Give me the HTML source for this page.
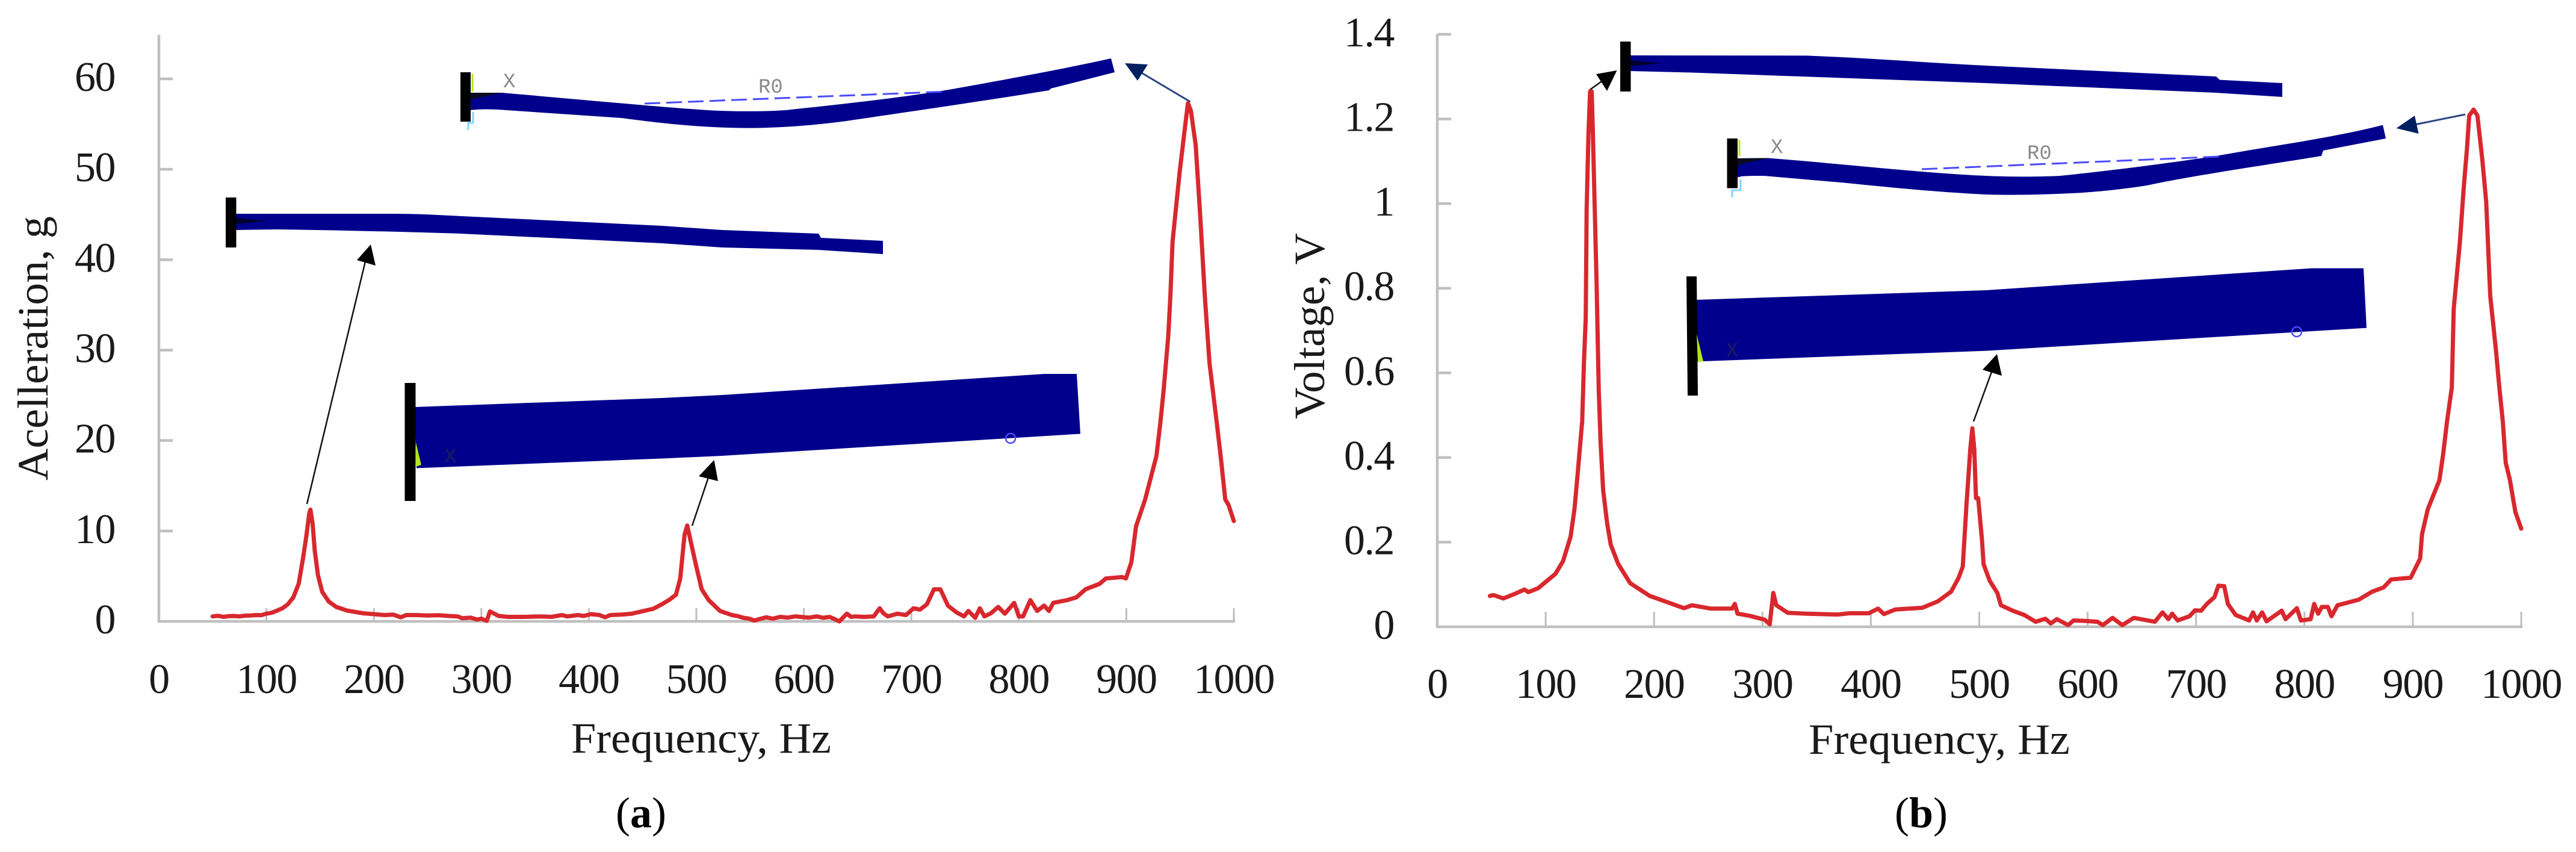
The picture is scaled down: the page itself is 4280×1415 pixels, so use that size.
<!DOCTYPE html>
<html lang="en">
<head>
<meta charset="utf-8">
<title>Frequency response: acceleration and voltage</title>
<style>
  html, body { margin: 0; padding: 0; background: #ffffff; width: 4280px; height: 1415px; overflow: hidden; }
  svg { display: block; }
  text { font-family: "Liberation Serif", serif; fill: #1a1a1a; }
  .tick-label { font-size: 70px; letter-spacing: -1.5px; }
  .axis-title { font-size: 72px; }
  .panel-label { font-size: 72px; fill: #000; }
  .fem-label { font-family: "Liberation Mono", monospace; font-size: 34px; fill: #8a8a8a; }
  .beam { fill: #00008c; }
  .clamp { fill: #000000; }
  .undeformed { stroke: #4a4aff; stroke-width: 3; stroke-dasharray: 26 10; fill: none; }
</style>
</head>
<body>
<svg id="fig" xmlns="http://www.w3.org/2000/svg" width="4280" height="1415" viewBox="0 0 4280 1415">
  <rect width="4280" height="1415" fill="#ffffff"/>

  <!-- Panel (a) mode shapes -->
  <g>
    <path class="beam" d="M392,355 L612,355 C 660,355 690,355 727,357 L1100,375 L1200,382 L1360,388 L1364,395 L1467,400 L1467,422 L1360,415 L1200,411 L1100,404 L765,388 C 640,384 540,382 459,381 L392,382 Z"/>
    <polygon points="392,362 443,367 392,372" fill="#000030"/>
    <rect class="clamp" x="375" y="328" width="17.5" height="83"/>
    <path class="beam" d="M782,154 L834,154 C 960,165 1100,178 1176,183 C 1230,186 1290,185 1314,182 C 1400,173 1500,162 1582,148 C 1660,134 1760,116 1846,97 L1852,120 L1746,147 L1743,150 C 1620,170 1480,190 1406,201 C 1360,207 1320,211 1260,212.5 C 1180,214 1100,205 1033,196 L842,183 C 820,181 796,181 782,183 Z"/>
    <polygon points="782,154 834,154 782,165" fill="#0a0a20"/>
    <line class="undeformed" x1="1071" y1="172" x2="1574" y2="152"/>
    <line x1="785" y1="123" x2="785" y2="152" stroke="#b5e61d" stroke-width="3"/>
    <rect class="clamp" x="765" y="120" width="17" height="82"/>
    <text class="fem-label" x="836" y="145">X</text>
    <text class="fem-label" x="1260" y="154">R0</text>
    <path d="M786 186 V204 H778 V216" stroke="#7fd4ff" stroke-width="3" fill="none"/>
    <polygon class="beam" points="689,676 1100,661 1200,656 1735,621 1789,621 1795,720.5 1200,757 1100,761.5 692,777.5"/>
    <rect class="clamp" x="672.5" y="636" width="18" height="196"/>
    <polygon points="691,735 700,772 691,775" fill="#b5e61d"/>
    <text class="fem-label" x="738" y="768" style="fill:#1c1c60">X</text>
    <circle cx="1679" cy="728" r="8" fill="none" stroke="#4a4aff" stroke-width="2.5"/>
  </g>

  <!-- Panel (a) arrows -->
  <g>
    <line x1="510" y1="837" x2="608" y2="430" stroke="#111" stroke-width="2.5"/>
    <polygon points="616,406 593,432 624,441" fill="#000"/>
    <line x1="1150" y1="873" x2="1178" y2="790" stroke="#111" stroke-width="2.5"/>
    <polygon points="1186.5,764 1161,791 1193,799" fill="#000"/>
    <line x1="1977.6" y1="169" x2="1895" y2="120" stroke="#2a4580" stroke-width="3"/>
    <polygon points="1869,105 1907,107 1890,134" fill="#002060"/>
  </g>

  <!-- Panel (b) mode shapes -->
  <g>
    <path class="beam" d="M2709,92 L3001.5,92.4 C 3100,96 3200,104 3300,109 L3682,127 L3688,132.6 L3792,138 L3792,161 L3682,154 L3300,138 L2810,120.5 L2709,118 Z"/>
    <polygon points="2709,100 2759,105 2709,110" fill="#000030"/>
    <rect class="clamp" x="2692" y="69" width="17.5" height="83"/>
    <path class="beam" d="M2887,263 L2938,262.5 C 3060,272 3200,288 3299,292 C 3360,294.5 3400,293 3423.5,292 C 3490,285 3600,272 3688,258 C 3790,240 3880,228 3959,207.6 L3964,230 L3860,250 L3857,259 C 3760,275 3640,292 3567,308 C 3520,315 3490,318 3452,320.5 C 3380,324 3340,324 3299,323 C 3200,318 3100,307 3065,303.6 L2931,292 C 2915,292 2900,292 2893,293 L2887,294.6 Z"/>
    <polygon points="2887,263 2938,262.5 2887,274" fill="#0a0a20"/>
    <line class="undeformed" x1="3193" y1="281" x2="3688" y2="260"/>
    <line x1="2890" y1="232" x2="2890" y2="259" stroke="#b5e61d" stroke-width="3"/>
    <rect class="clamp" x="2869.5" y="230" width="17.5" height="82.5"/>
    <text class="fem-label" x="2942" y="254">X</text>
    <text class="fem-label" x="3368" y="264">R0</text>
    <path d="M2892 298 V316 H2878 V328" stroke="#7fd4ff" stroke-width="3" fill="none"/>
    <polygon class="beam" points="2817,498 3300,482 3841,445.5 3927,445.5 3932,544.6 3300,582.6 2829,600 2817,600"/>
    <polygon class="clamp" points="2802,459 2819,459 2821,657 2804,657"/>
    <polygon points="2819,555 2830,600 2821,602" fill="#b5e61d"/>
    <text class="fem-label" x="2868" y="592" style="fill:#1c1c60">X</text>
    <circle cx="3816" cy="551" r="8" fill="none" stroke="#4a4aff" stroke-width="2.5"/>
  </g>

  <!-- Panel (b) arrows -->
  <g>
    <line x1="2641" y1="149.5" x2="2664" y2="133" stroke="#111" stroke-width="2.5"/>
    <polygon points="2686.5,117 2652,123 2670,151" fill="#000"/>
    <line x1="3279" y1="700" x2="3310" y2="615" stroke="#111" stroke-width="2.5"/>
    <polygon points="3318,588 3294,614 3326,624" fill="#000"/>
    <line x1="4096" y1="190" x2="4012" y2="207" stroke="#2a4580" stroke-width="3"/>
    <polygon points="3981.5,213 4012,192 4018.5,222" fill="#002060"/>
  </g>

  <!-- Titles and panel labels -->
  <text class="axis-title" x="949" y="1250" textLength="432" lengthAdjust="spacingAndGlyphs">Frequency, Hz</text>
  <text class="axis-title" transform="translate(79,798) rotate(-90)" textLength="439" lengthAdjust="spacingAndGlyphs">Acelleration, g</text>
  <text class="panel-label" x="1065" y="1374" text-anchor="middle">(<tspan font-weight="bold">a</tspan>)</text>
  <text class="axis-title" x="3005" y="1252" textLength="434" lengthAdjust="spacingAndGlyphs">Frequency, Hz</text>
  <text class="axis-title" transform="translate(2200,696) rotate(-90)" textLength="309" lengthAdjust="spacingAndGlyphs">Voltage, V</text>
  <text class="panel-label" x="3192" y="1374" text-anchor="middle">(<tspan font-weight="bold">b</tspan>)</text>
</svg>

<script>
// Shared x-axis ticks (Hz)
const xTickLabels = ["0","100","200","300","400","500","600","700","800","900","1000"];
// Panel (a) y-axis ticks (g)
const yTickLabelsA = ["0","10","20","30","40","50","60"];
// Panel (b) y-axis ticks (V)
const yTickLabelsB = ["0","0.2","0.4","0.6","0.8","1","1.2","1.4"];

// Panel (a) series: frequency in Hz
const freqA = [50,55,60,65,70,75,80,85,90,95,100,105,110,115,120,125,130,134,137,140,141,143,145,148,152,158,165,175,190,200,210,218,225,230,240,250,260,270,278,282,290,296,300,305,308,312,316,325,340,355,365,375,380,390,395,402,410,415,420,430,440,451,460,468,475,481,485,489,491.5,495,499.5,505,511.5,522,533,538,543.6,549,554,560,565,571,578,585,592,597,605,612,618,624,633,640,644,648,656,665,670.5,674,678,687,695,702,708,714.5,721,727,734,742,749,753,759.4,763.7,768,774,780.8,787,795.7,800,804,810.7,817,823.5,828,832,845,853.4,862,875,881,896,899.6,904.7,909,917.5,928,931.6,934.7,939,941,943,949.6,953.8,957.3,960,964.5,968.7,973,977.3,984,988,992,995,1000];
// Panel (a) series: acceleration in g
const accelG = [0.55,0.62,0.5,0.58,0.6,0.55,0.63,0.65,0.7,0.68,0.85,0.95,1.2,1.45,1.9,2.65,4.15,6.9,9.3,12,12.35,10.8,7.8,5.1,3.25,2.2,1.6,1.2,0.9,0.8,0.7,0.75,0.45,0.7,0.7,0.65,0.68,0.6,0.55,0.35,0.42,0.2,0.3,0.05,1.1,0.85,0.6,0.5,0.5,0.55,0.5,0.7,0.55,0.7,0.6,0.8,0.7,0.45,0.7,0.75,0.85,1.15,1.4,1.9,2.4,2.95,4.75,9.6,10.6,8.7,6.3,3.55,2.35,1.15,0.7,0.6,0.4,0.3,0.1,0.3,0.45,0.3,0.5,0.42,0.55,0.5,0.42,0.55,0.4,0.5,0,0.85,0.5,0.55,0.5,0.55,1.45,0.9,0.55,0.85,0.7,1.45,1.3,1.9,3.55,3.55,1.75,1,0.55,1.15,0.4,1.45,0.55,0.9,1.6,0.85,2.05,0.55,0.55,2.35,1.15,1.75,1.15,2.05,2.35,2.65,3.55,4.15,4.75,4.9,4.75,6.55,10.5,13.5,18.3,21.9,25.6,31.6,36,42,49.7,53.9,57.3,56.5,52.7,44.9,36,28.6,22.1,18,13.5,12.9,11.1];

// Panel (b) series: frequency in Hz
const freqB = [48.6,52,61,71.6,80.5,84,93,100,109,116,123,126.6,130,133.7,135.3,137,137.8,139.5,141,142.5,143.5,145.3,147,149,150.7,153,156.7,160,167,178,196,213.5,227.7,234.8,252.5,272,274.5,277,288,302,306.7,310,312.8,323.4,341,369.5,380,398,406.7,412,422.7,447.5,461.7,474,481,484.8,488.3,491.8,493.6,495.4,497,499,502.5,504,509.6,516.7,520,530.9,541.5,552,561,566,571.6,582,587,598,609,614,623,632,642.6,662,669,674.5,678,683,694,699,704.6,710,717,720.6,726,729.4,736.5,749,752.5,756,761,765,779,782.6,793,796.8,805.7,809,812.6,816,821.6,825,830.5,850,862.4,873,880,898,906.7,908.5,913.8,924.5,928,931.6,936,937.7,943.4,946.9,950,952,956,959.6,964,967.7,971.4,976.6,980,983,985.7,989.4,994.6,1000];
// Panel (b) series: voltage in V
const voltageV = [0.073,0.075,0.067,0.078,0.088,0.082,0.091,0.106,0.125,0.155,0.213,0.278,0.375,0.486,0.623,0.731,0.986,1.164,1.265,1.265,1.176,0.985,0.814,0.56,0.434,0.323,0.245,0.194,0.148,0.103,0.073,0.057,0.044,0.051,0.043,0.043,0.054,0.031,0.026,0.017,0.006,0.08,0.051,0.033,0.031,0.029,0.032,0.032,0.043,0.03,0.041,0.045,0.06,0.083,0.116,0.142,0.291,0.421,0.469,0.421,0.304,0.304,0.206,0.148,0.109,0.08,0.051,0.038,0.028,0.012,0.019,0.008,0.018,0.004,0.015,0.014,0.012,0.004,0.021,0.004,0.021,0.012,0.034,0.018,0.031,0.015,0.025,0.039,0.038,0.054,0.07,0.097,0.096,0.054,0.028,0.015,0.034,0.015,0.034,0.013,0.038,0.018,0.044,0.015,0.018,0.054,0.031,0.047,0.047,0.025,0.051,0.064,0.083,0.093,0.112,0.116,0.161,0.219,0.278,0.346,0.408,0.486,0.566,0.751,0.909,1.036,1.131,1.208,1.222,1.208,1.106,1.004,0.782,0.655,0.56,0.485,0.388,0.349,0.271,0.232];

const SVG_NS = 'http://www.w3.org/2000/svg';
const svg = document.getElementById('fig');

function xAxisA(v) { return 264 + (v / 1000) * 1786; }
function yAxisA(v) { return 1032 - (v / 60) * 901; }
function xAxisB(v) { return 2388 + (v / 1000) * 1801; }
function yAxisB(v) { return 1041 - (v / 1.4) * 984; }

function shape(tag, attrs) {
  const el = document.createElementNS(SVG_NS, tag);
  for (const k in attrs) el.setAttribute(k, attrs[k]);
  return el;
}

function drawAxes(xf, yf, yLabels, yLabelRight, xLabelBaseline, topY, xTickHeight, suffix) {
  const group = shape('g', {});
  
  
  const axisStyle = { stroke: '#bfbfbf', 'stroke-width': 4.5, fill: 'none' };

  const yLine = shape('line', Object.assign({ x1: xf(0), x2: xf(0), y1: topY, y2: yf(0) + 2 }, axisStyle));
  
  
  group.appendChild(yLine);

  const xLine = shape('line', Object.assign({ x1: xf(0), x2: xf(1000) + 2, y1: yf(0), y2: yf(0) }, axisStyle));
  
  
  group.appendChild(xLine);

  yLabels.forEach(function (label) {
    const v = parseFloat(label);
    if (v > 0) {
      const t = shape('line', Object.assign({ x1: xf(0), x2: xf(0) + 23, y1: yf(v), y2: yf(v) }, axisStyle));
      
      
      group.appendChild(t);
    }
    const txt = shape('text', { x: yLabelRight, y: yf(v) + 20, 'text-anchor': 'end', class: 'tick-label' });
    
    
    txt.textContent = label;
    group.appendChild(txt);
  });

  xTickLabels.forEach(function (label) {
    const v = parseFloat(label);
    if (v > 0) {
      const t = shape('line', { x1: xf(v), x2: xf(v), y1: yf(0), y2: yf(0) - xTickHeight, stroke: '#bfbfbf', 'stroke-width': 3 });
      
      
      group.appendChild(t);
    }
    const txt = shape('text', { x: xf(v), y: xLabelBaseline, 'text-anchor': 'middle', class: 'tick-label' });
    
    
    txt.textContent = label;
    group.appendChild(txt);
  });
  svg.appendChild(group);
}

function drawSeries(freqs, values, xf, yf, name) {
  const points = freqs.map(function (f, i) {
    return xf(f).toFixed(1) + ',' + yf(values[i]).toFixed(1);
  }).join(' ');
  const line = shape('polyline', {
    points: points, fill: 'none', stroke: '#d8282e', 'stroke-width': 7,
    'stroke-linejoin': 'round', 'stroke-linecap': 'round'
  });
  
  
  svg.appendChild(line);
}

drawAxes(xAxisA, yAxisA, yTickLabelsA, 191, 1151, 58, 22, 'a');
drawAxes(xAxisB, yAxisB, yTickLabelsB, 2316, 1159, 57, 25, 'b');
drawSeries(freqA, accelG, xAxisA, yAxisA, 'acceleration-curve');
drawSeries(freqB, voltageV, xAxisB, yAxisB, 'voltage-curve');
</script>
</body>
</html>
